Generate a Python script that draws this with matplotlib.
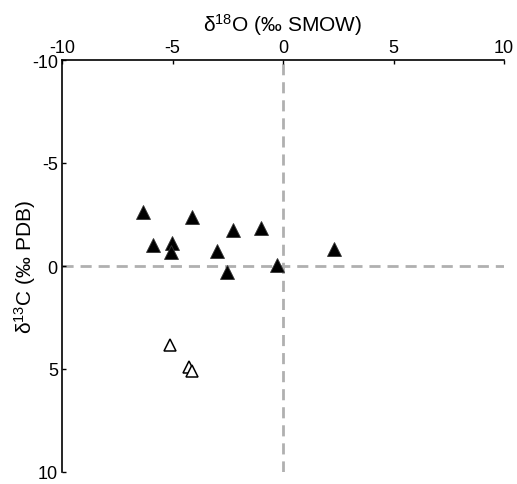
import matplotlib
matplotlib.use("Agg")
import matplotlib.pyplot as plt

plt.rcParams['font.family'] = ['Liberation Sans', 'DejaVu Sans']
plt.rcParams['mathtext.default'] = 'regular'

# filled triangles
o18_filled = [-6.35, -4.14, -5.86, -5.02, -5.07, -2.99, -2.27, -1.01, -2.54, -0.29, 2.32]
c13_filled = [-2.6, -2.36, -1.02, -1.12, -0.66, -0.74, -1.76, -1.83, 0.28, -0.05, -0.83]
# open triangles
o18_open = [-5.13, -4.24, -4.12]
c13_open = [3.83, 4.92, 5.08]

xticks = [-10, -5, 0, 5, 10]
yticks = [-10, -5, 0, 5, 10]

fig = plt.figure(figsize=(5.17, 4.85), dpi=100)
ax = fig.add_axes([62/517, 1-473/485, (504-62)/517, (473-61)/485])

ax.axvline(0, color='#b0b0b0', lw=2, ls=(0, (4, 2.5)), zorder=1)
ax.axhline(0, color='#b0b0b0', lw=2, ls=(0, (4, 2.5)), zorder=1)

ax.plot(o18_filled, c13_filled, ls='none', marker='^', ms=9.5,
        mfc='black', mec='#333333', mew=0.6, zorder=3)
ax.plot(o18_open, c13_open, ls='none', marker='^', ms=9,
        mfc='white', mec='black', mew=1.1, zorder=3)

ax.set_xlim(-10, 10)
ax.set_ylim(10, -10)
ax.set_xticks(xticks)
ax.set_yticks(yticks)
ax.set_xticklabels([str(t) for t in xticks])
ax.set_yticklabels([str(t) for t in yticks])

ax.xaxis.tick_top()
ax.xaxis.set_label_position('top')
for s in ['right', 'bottom']:
    ax.spines[s].set_visible(False)
for s in ['left', 'top']:
    ax.spines[s].set_linewidth(1.2)
ax.tick_params(axis='both', direction='in', length=3, width=1, labelsize=13, pad=3)

ax.set_xlabel('\u03b4$^{18}$O (\u2030 SMOW)', fontsize=15)
ax.set_ylabel('\u03b4$^{13}$C (\u2030 PDB)', fontsize=15)
ax.xaxis.set_label_coords(0.5, 1 + (61 - 32) / 412)
ax.yaxis.set_label_coords((38 - 62) / 442, 0.5)

fig.savefig('out.png', dpi=100)
